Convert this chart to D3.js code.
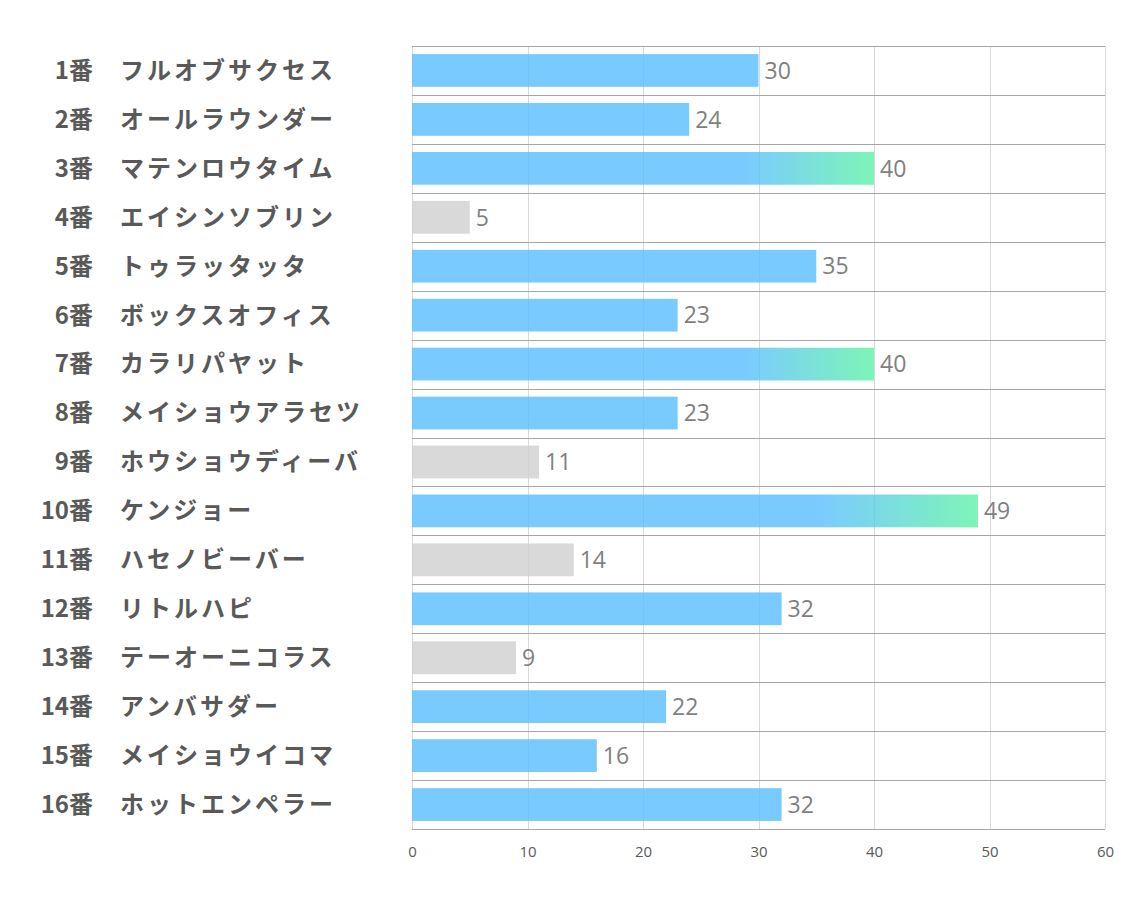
<!DOCTYPE html>
<html>
<head>
<meta charset="utf-8">
<script src="https://cdn.jsdelivr.net/npm/d3@7"></script>
<style>
  body { margin: 0; background: #fff; }
  .num-label { font-family: "Noto Sans CJK JP", sans-serif; font-weight: bold; font-size: 24px; fill: #595959; }
  .name-label { font-family: "Noto Sans CJK JP", sans-serif; font-weight: bold; font-size: 24px; letter-spacing: 3px; fill: #595959; }
  .val-label { font-family: "Open Sans", "Noto Sans", sans-serif; font-size: 23px; fill: #7f7f7f; }
  .x.axis text { font-family: "Open Sans", "Noto Sans", sans-serif; font-size: 15px; fill: #595959; }
</style>
</head>
<body>
<svg class="chart"></svg>
<script>
const numbers = ["1番","2番","3番","4番","5番","6番","7番","8番","9番","10番","11番","12番","13番","14番","15番","16番"]
const horses = ["フルオブサクセス","オールラウンダー","マテンロウタイム","エイシンソブリン","トゥラッタッタ","ボックスオフィス","カラリパヤット","メイショウアラセツ","ホウショウディーバ","ケンジョー","ハセノビーバー","リトルハピ","テーオーニコラス","アンバサダー","メイショウイコマ","ホットエンペラー"]
const scores = [30, 24, 40, 5, 35, 23, 40, 23, 11, 49, 14, 32, 9, 22, 16, 32]
const xTicks = [0, 10, 20, 30, 40, 50, 60]

setGraph()

function setGraph() {
    var margin = {top: 46, right: 29, bottom: 78, left: 412}
    , width = 1134 - margin.left - margin.right
    , height = 907 - margin.top - margin.bottom;

    var svg = d3.select(".chart")
        .attr("width", 1134)
        .attr("height", 907)

    var defs = svg.append("defs")
    var grad = defs.append("linearGradient")
        .attr("id", "hot")
        .attr("x1", "0").attr("x2", "1").attr("y1", "0").attr("y2", "0")
    grad.append("stop").attr("offset", "0.72").attr("stop-color", "#58beff")
    grad.append("stop").attr("offset", "1").attr("stop-color", "#5cf2a6")

    var xScale = d3.scaleLinear()
        .domain([0, 60])
        .range([0, width])

    var yScale = d3.scaleBand()
        .domain(numbers)
        .range([0, height])
        .paddingInner(0.33)
        .paddingOuter(0.165)

    var graph = svg.append("g")
        .attr("transform", "translate(" + margin.left + "," + margin.top + ")")

    // vertical grid
    graph.selectAll(".vgrid")
        .data(xTicks)
        .enter().append("line")
        .attr("x1", d => Math.round(xScale(d)) + 0.5)
        .attr("x2", d => Math.round(xScale(d)) + 0.5)
        .attr("y1", 0)
        .attr("y2", height)
        .attr("stroke", "#d9d9d9")
        .attr("stroke-width", 1)

    // row separators
    const step = height / numbers.length
    graph.selectAll(".hgrid")
        .data(d3.range(numbers.length + 1))
        .enter().append("line")
        .attr("x1", 0)
        .attr("x2", width)
        .attr("y1", d => Math.round(d * step) + 0.5)
        .attr("y2", d => Math.round(d * step) + 0.5)
        .attr("stroke", "#a6a6a6")
        .attr("stroke-width", 1)

    // bars
    graph.selectAll(".bar")
        .data(scores)
        .enter().append("rect")
        .attr("x", 0)
        .attr("y", (d, i) => yScale(numbers[i]))
        .attr("width", d => xScale(d))
        .attr("height", yScale.bandwidth())
        .attr("fill", d => d >= 40 ? "url(#hot)" : (d >= 15 ? "#58beff" : "#d0d0d0"))
        .attr("fill-opacity", 0.8)

    // value labels
    graph.selectAll(".val-label")
        .data(scores)
        .enter().append("text")
        .attr("class", "val-label")
        .attr("x", d => xScale(d) + 6)
        .attr("y", (d, i) => yScale(numbers[i]) + yScale.bandwidth() / 2)
        .attr("dy", "0.36em")
        .text(d => d)

    // left labels
    numbers.forEach((n, i) => {
        const cy = margin.top + yScale(n) + yScale.bandwidth() / 2
        svg.append("text")
            .attr("class", "num-label")
            .attr("x", 93)
            .attr("y", cy)
            .attr("dy", "0.35em")
            .attr("text-anchor", "end")
            .text(n)
        svg.append("text")
            .attr("class", "name-label")
            .attr("x", 120)
            .attr("y", cy)
            .attr("dy", "0.35em")
            .text(horses[i])
    })

    // x axis
    var xAxis = graph.append("g")
        .attr("class", "x axis")
        .attr("transform", "translate(0," + height + ")")
        .call(d3.axisBottom(xScale).tickValues(xTicks).tickSize(0).tickPadding(17))
    xAxis.select(".domain").remove()
}
</script>
</body>
</html>
